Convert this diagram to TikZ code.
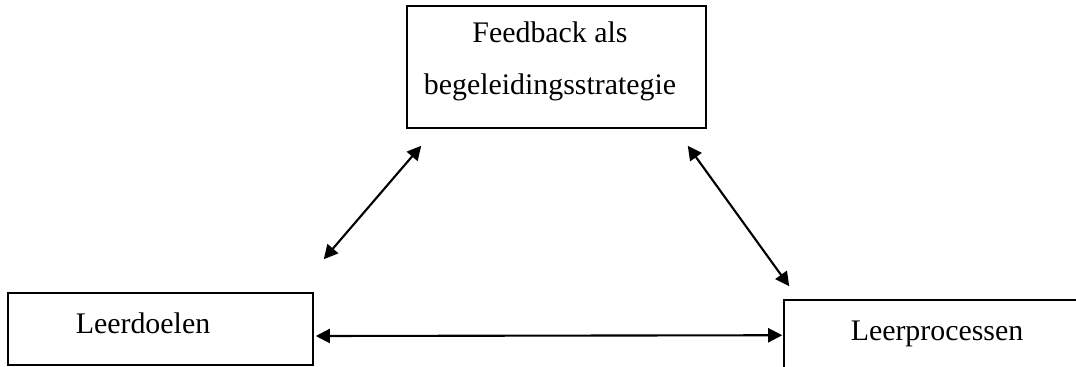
\documentclass[tikz,border=0pt]{standalone}
\usepackage{fontspec}
\setmainfont{Liberation Serif}
\usetikzlibrary{arrows.meta,positioning,calc}

\begin{document}
\begin{tikzpicture}[x=0.03cm, y=-0.03cm,
  box/.style={draw, line width=1.3pt, inner sep=0pt},
  lbl/.style={font=\fontsize{25.5}{38}\selectfont, inner sep=0pt, anchor=base},
  link/.style={{Triangle[length=12pt,width=12pt]}-{Triangle[length=12pt,width=12pt]}, line width=1.8pt}]
\useasboundingbox (0,0) rectangle (1076,366);
\clip (0,0) rectangle (1076,366);
% boxes
\node[box, minimum width=8.97cm, minimum height=3.66cm] (fb) at (556.5,67) {};
\node[box, minimum width=9.15cm, minimum height=2.16cm] (ld) at (160.5,329) {};
\node[box, minimum width=9.48cm, minimum height=3cm] (lp) at (942,350) {};
% labels
\node[lbl] (fbtop) at (550,43) {Feedback als};
\node[lbl] (fbbot) at (550,94) {begeleidingsstrategie};
\node[lbl] (ldtxt) at (143,333) {Leerdoelen};
\node[lbl] (lptxt) at (937,340) {Leerprocessen};
% connectors
\draw[link] ($(ld.north east)+(10,-33)$) -- ($(fb.south west)+(15,17)$);
\draw[link] ($(fb.south east)+(-19,17)$) -- ($(lp.north west)+(6,-13)$);
\draw[link] ($(ld.east)+(2,7)$) -- ($(lp.north west)+(-1,36)$);
\end{tikzpicture}
\end{document}
